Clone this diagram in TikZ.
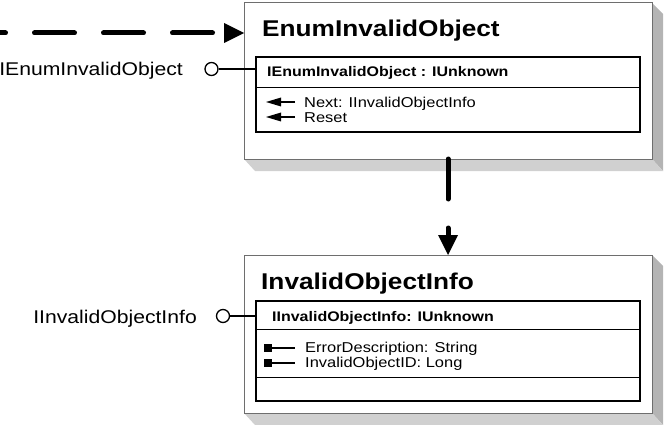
\documentclass[tikz,border=0pt]{standalone}
\usepackage{fontspec}
\setmainfont{Liberation Sans}[FakeStretch=1.15]
\usetikzlibrary{arrows.meta,backgrounds}
\definecolor{boxgray}{HTML}{6E6E6E}
\definecolor{shadeside}{HTML}{B4B4B4}
\definecolor{shadebottom}{HTML}{D0D0D0}

\begin{document}
\begin{tikzpicture}[x=1pt, y=-1pt,
        >={Triangle[length=20pt,width=20pt,line width=0pt]},
        classbox/.style={draw=boxgray, line width=1pt, fill=white, anchor=north west,
            minimum width=408pt, inner sep=0pt, outer sep=0pt},
        ifacebox/.style={draw, line width=1.4pt, anchor=north west,
            minimum width=384pt, inner sep=0pt, outer sep=0pt},
        title/.style={anchor=base west, inner sep=0pt, font=\fontsize{22.8}{24}\selectfont\bfseries},
        header/.style={anchor=base west, inner sep=0pt, font=\fontsize{13.9}{15}\selectfont\bfseries},
        member/.style={anchor=base west, inner sep=0pt, font=\fontsize{14.3}{15}\selectfont},
        ifacename/.style={anchor=base east, inner sep=0pt, font=\fontsize{18.4}{20}\selectfont},
        lolli/.style={circle, draw, line width=1.3pt, fill=white, minimum size=13pt, inner sep=0pt},
        flow/.style={->, line width=5pt, line cap=round, dash pattern=on 40pt off 29pt}]
    \useasboundingbox (0,0) rectangle (666,425);

    % EnumInvalidObject
    \node[classbox, minimum height=156pt] (enum) at (244,3) {};
    \node[title] (enumtitle) at (262,37) {EnumInvalidObject};
    \node[ifacebox, minimum height=75pt] (ienum) at (256,57) {};
    \draw[line width=0.8pt] (ienum.west |- 0,87) -- (ienum.east |- 0,87);
    \node[header] (ienumhead) at (267,77) {IEnumInvalidObject : IUnknown};
    \node[member] (next) at (304,107) {Next: IInvalidObjectInfo};
    \node[member] (reset) at (304,122) {Reset};
    \foreach \y in {102,117}
        \draw[line width=1.8pt, -{Triangle[length=15pt,width=9pt,line width=0pt]}] (295,\y) -- (266,\y);

    % InvalidObjectInfo
    \node[classbox, minimum height=158pt] (info) at (244,255) {};
    \node[title] (infotitle) at (261,289) {InvalidObjectInfo};
    \node[ifacebox, minimum height=100pt] (iinfo) at (256,301) {};
    \draw[line width=0.8pt] (iinfo.west |- 0,329) -- (iinfo.east |- 0,329);
    \draw[line width=0.8pt] (iinfo.west |- 0,377) -- (iinfo.east |- 0,377);
    \node[header] (iinfohead) at (272,321) {IInvalidObjectInfo: IUnknown};
    \node[member] (errdesc) at (305,352) {ErrorDescription: String};
    \node[member] (objid) at (305,367.5) {InvalidObjectID: Long};
    \foreach \y in {348,363}{
        \fill (264,\y-4) rectangle ++(8,8);
        \draw[line width=1.3pt] (272,\y) -- (295,\y);
    }

    % shadows
    \begin{scope}[on background layer]
        \foreach \b in {enum,info}{
            \fill[shadeside] (\b.north east) -- ([shift={(11,11)}]\b.north east)
                -- ([shift={(11,12)}]\b.south east) -- (\b.south east) -- cycle;
            \fill[shadebottom] (\b.south west) -- ([shift={(11,12)}]\b.south west)
                -- ([shift={(11,12)}]\b.south east) -- (\b.south east) -- cycle;
        }
    \end{scope}

    % interfaces
    \node[lolli] (ienumdot) at (211.5,69) {};
    \draw[line width=1.3pt] (ienumdot) -- (ienum.west |- ienumdot);
    \node[ifacename] (ienumname) at (183,76) {IEnumInvalidObject};
    \node[lolli] (iinfodot) at (223,316) {};
    \draw[line width=1.3pt] (iinfodot) -- (iinfo.west |- iinfodot);
    \node[ifacename] (iinfoname) at (197,323) {IInvalidObjectInfo};

    % connectors
    \coordinate (src) at (-34.5,33);
    \draw[flow] (src) -- (enum.west |- src);
    \draw[flow] (enum.south) -- (info.north);
\end{tikzpicture}
\end{document}
